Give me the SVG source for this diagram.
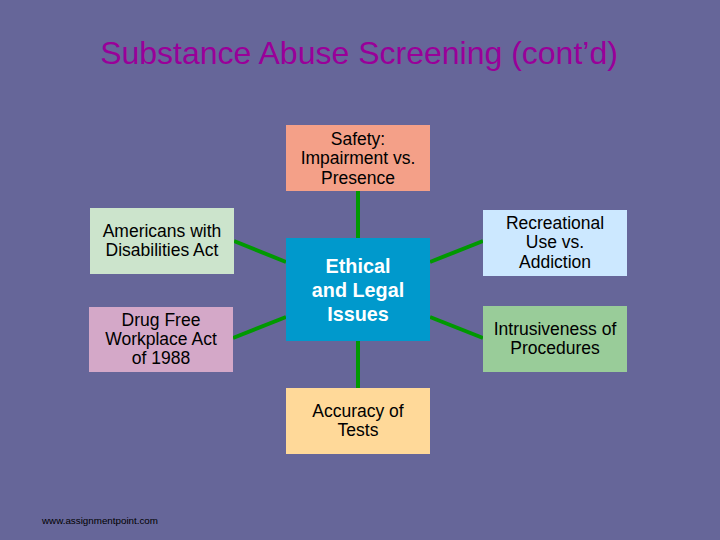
<svg xmlns="http://www.w3.org/2000/svg" width="720" height="540" viewBox="0 0 720 540">
<style>
.box{stroke:none}
.t{font-family:"Liberation Sans",Arial,sans-serif;font-size:17.5px;fill:#000;text-anchor:middle}
.c{font-family:"Liberation Sans",Arial,sans-serif;font-size:19.8px;font-weight:bold;fill:#fff;text-anchor:middle}
.ln{stroke:#009900;stroke-width:4;fill:none}
</style>
<rect width="720" height="540" fill="#666699"/>
<text x="359" y="64" font-family="'Liberation Sans',Arial,sans-serif" font-size="32" fill="#990099" text-anchor="middle">Substance Abuse Screening (cont’d)</text>
<g id="connectors">
<line class="ln" x1="358" y1="191" x2="358" y2="238"/>
<line class="ln" x1="358" y1="341" x2="358" y2="388"/>
<line class="ln" x1="234" y1="241" x2="286" y2="262"/>
<line class="ln" x1="233" y1="338" x2="286" y2="317"/>
<line class="ln" x1="430" y1="262" x2="483" y2="241"/>
<line class="ln" x1="430" y1="317" x2="483" y2="338"/>
</g>
<g id="safety">
<rect class="box" x="286" y="125" width="144" height="66" fill="#F4A088"/>
<text class="t" x="358" y="145">Safety:</text>
<text class="t" x="358" y="164">Impairment vs.</text>
<text class="t" x="358" y="184">Presence</text>
</g>
<g id="ada">
<rect class="box" x="90" y="208" width="144" height="66" fill="#CCE4CC"/>
<text class="t" x="162" y="237">Americans with</text>
<text class="t" x="162" y="256">Disabilities Act</text>
</g>
<g id="drugfree">
<rect class="box" x="89" y="307" width="144" height="65" fill="#D4A8C8"/>
<text class="t" x="161" y="326">Drug Free</text>
<text class="t" x="161" y="345">Workplace Act</text>
<text class="t" x="161" y="364">of 1988</text>
</g>
<g id="center">
<rect class="box" x="286" y="238" width="144" height="103" fill="#0099CC"/>
<text class="c" x="358" y="273">Ethical</text>
<text class="c" x="358" y="297">and Legal</text>
<text class="c" x="358" y="321">Issues</text>
</g>
<g id="recreational">
<rect class="box" x="483" y="210" width="144" height="66" fill="#CCE8FF"/>
<text class="t" x="555" y="229">Recreational</text>
<text class="t" x="555" y="248">Use vs.</text>
<text class="t" x="555" y="268">Addiction</text>
</g>
<g id="intrusiveness">
<rect class="box" x="483" y="306" width="144" height="66" fill="#99CC99"/>
<text class="t" x="555" y="335">Intrusiveness of</text>
<text class="t" x="555" y="354">Procedures</text>
</g>
<g id="accuracy">
<rect class="box" x="286" y="388" width="144" height="66" fill="#FFD999"/>
<text class="t" x="358" y="417">Accuracy of</text>
<text class="t" x="358" y="436">Tests</text>
</g>
<text x="42" y="524" font-family="'Liberation Sans',Arial,sans-serif" font-size="9.8" fill="#000">www.assignmentpoint.com</text>
</svg>
